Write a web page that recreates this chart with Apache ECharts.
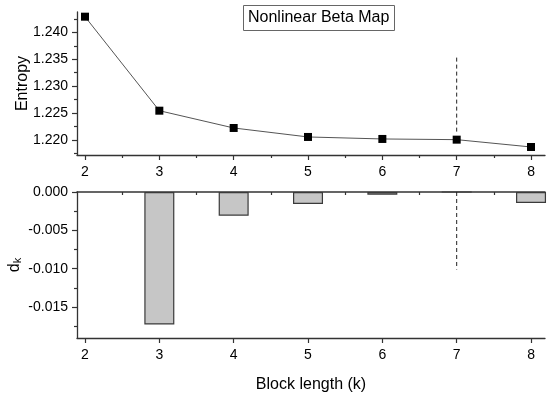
<!DOCTYPE html>
<html><head><meta charset="utf-8">
<script src="https://cdn.jsdelivr.net/npm/echarts@6/dist/echarts.min.js"></script>
<style>html,body{margin:0;padding:0;background:#fff}#c{width:550px;height:393px}</style>
</head><body><div id="c"></div>
<script>
var blockLength = [2, 3, 4, 5, 6, 7, 8];
var entropy = [1.2429, 1.22544, 1.22223, 1.22056, 1.22019, 1.22006, 1.21870];
var dk = [null, -0.01727, -0.00308, -0.00156, -0.00035, 0, -0.00143];
var xTicks = [2, 3, 4, 5, 6, 7, 8];
var xMinorTicks = [2.5, 3.5, 4.5, 5.5, 6.5, 7.5];
var entropyTicks = [1.220, 1.225, 1.230, 1.235, 1.240];
var entropyMinor = [1.2175, 1.2225, 1.2275, 1.2325, 1.2375, 1.2425];
var dkTicks = [0, -0.005, -0.010, -0.015];
var dkMinor = [-0.0025, -0.0075, -0.0125, -0.0175];
var markerK = 7;
var markerTop = [1.2353, 1.2213];
var markerBottom = [0, -0.0101];

var FONT = "'Liberation Sans', Arial, sans-serif";
var AX = '#333';
var xMin = 1.8924, xMax = 8.188;

function mainX(grid, showName) {
  return {
    type: 'value', gridIndex: grid, min: xMin, max: xMax, position: 'bottom',
    axisLine: {show: true, onZero: false, lineStyle: {color: AX, width: 1.3}},
    axisTick: {show: true, length: 5, customValues: xTicks, lineStyle: {color: AX, width: 1.2}},
    axisLabel: {show: true, customValues: xTicks, margin: 10, fontSize: 14, color: '#000', fontFamily: FONT},
    splitLine: {show: false},
    name: showName ? 'Block length (k)' : '', nameLocation: 'middle', nameGap: 39, nameMoveOverlap: false,
    nameTextStyle: {fontSize: 16, color: '#000', fontFamily: FONT}
  };
}
function minorX(grid) {
  return {
    type: 'value', gridIndex: grid, min: xMin, max: xMax, position: 'bottom',
    axisLine: {show: false},
    axisTick: {show: true, length: 3, customValues: xMinorTicks, lineStyle: {color: AX, width: 1.2}},
    axisLabel: {show: false}, splitLine: {show: false}
  };
}
function mainY(grid, min, max, ticks, name, gap) {
  return {
    type: 'value', gridIndex: grid, min: min, max: max, position: 'left',
    axisLine: {show: true, onZero: false, lineStyle: {color: AX, width: 1.3}},
    axisTick: {show: true, length: 5, customValues: ticks, lineStyle: {color: AX, width: 1.2}},
    axisLabel: {show: true, customValues: ticks, margin: 9, fontSize: 14, color: '#000', fontFamily: FONT,
      formatter: function (v) { return (Math.abs(v) < 1e-9 ? 0 : v).toFixed(3); }},
    splitLine: {show: false},
    name: name, nameLocation: 'middle', nameGap: gap, nameRotate: 90, nameMoveOverlap: false,
    nameTextStyle: {fontSize: 16, color: '#000', fontFamily: FONT,
      rich: {sub: {fontSize: 11, verticalAlign: 'bottom', fontFamily: FONT, color: '#000'}}}
  };
}
function minorY(grid, min, max, ticks) {
  return {
    type: 'value', gridIndex: grid, min: min, max: max, position: 'left',
    axisLine: {show: false},
    axisTick: {show: true, length: 3, customValues: ticks, lineStyle: {color: AX, width: 1.2}},
    axisLabel: {show: false}, splitLine: {show: false}
  };
}

var eMin = 1.21721, eMax = 1.24377;
var dMin = -0.01903, dMax = 0;

var chart = echarts.init(document.getElementById('c'), null, {renderer: 'canvas'});
chart.setOption({
  animation: false,
  backgroundColor: '#fff',
  title: {
    text: 'Nonlinear Beta Map', left: 243, top: 5, padding: [5, 5],
    borderWidth: 1, borderColor: '#666',
    textStyle: {fontSize: 16, fontWeight: 'normal', color: '#000', fontFamily: FONT}
  },
  grid: [
    {left: 77, top: 12, width: 468, height: 143, outerBoundsMode: 'none', containLabel: false},
    {left: 77, top: 192, width: 468, height: 146, outerBoundsMode: 'none', containLabel: false}
  ],
  xAxis: [
    mainX(0, false), minorX(0), mainX(1, true), minorX(1),
    {type: 'value', gridIndex: 1, min: xMin, max: xMax, position: 'top',
     axisLine: {show: true, onZero: false, lineStyle: {color: AX, width: 1.5}},
     axisTick: {show: false}, axisLabel: {show: false}, splitLine: {show: false}}
  ],
  yAxis: [
    mainY(0, eMin, eMax, entropyTicks, 'Entropy', 46), minorY(0, eMin, eMax, entropyMinor),
    mainY(1, dMin, dMax, dkTicks, 'd{sub|k}', 54), minorY(1, dMin, dMax, dkMinor)
  ],
  series: [
    {type: 'line', xAxisIndex: 0, yAxisIndex: 0,
     data: blockLength.map(function (k, i) { return [k, entropy[i]]; }),
     symbol: 'rect', symbolSize: 8, itemStyle: {color: '#000'},
     lineStyle: {color: '#555', width: 1}, z: 3},
    {type: 'line', xAxisIndex: 0, yAxisIndex: 0,
     data: [[markerK, markerTop[0]], [markerK, markerTop[1]]], symbol: 'none',
     lineStyle: {color: '#222', width: 1, type: [4, 3]}, z: 2},
    {type: 'bar', xAxisIndex: 2, yAxisIndex: 2,
     data: blockLength.map(function (k, i) { return [k, dk[i]]; }),
     barWidth: 30, itemStyle: {color: '#c6c6c6', borderColor: '#3a3a3a', borderWidth: 1.2}},
    {type: 'line', xAxisIndex: 2, yAxisIndex: 2,
     data: [[markerK, markerBottom[0]], [markerK, markerBottom[1]]], symbol: 'none',
     lineStyle: {color: '#222', width: 1, type: [4, 3]}, z: 2}
  ]
});
</script></body></html>
